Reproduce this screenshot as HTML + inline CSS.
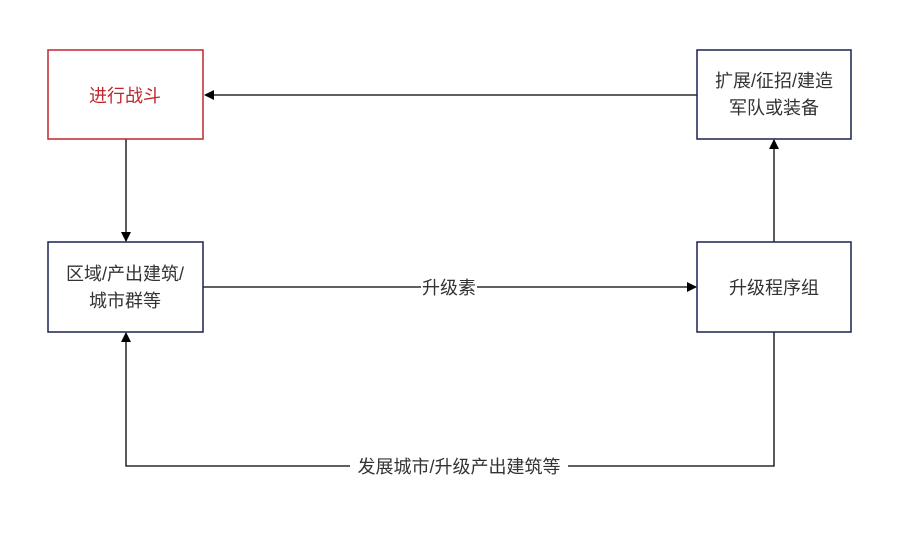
<!DOCTYPE html>
<html><head><meta charset="utf-8"><style>
body{margin:0;background:#fff;width:900px;height:535px;overflow:hidden}
svg text{font-family:"Liberation Sans","Noto Sans CJK SC",sans-serif;font-size:18px;fill:#333}
</style></head><body>
<svg width="900" height="535" viewBox="0 0 900 535" xmlns="http://www.w3.org/2000/svg">
<defs><marker id="a" markerWidth="10" markerHeight="10" refX="9" refY="5" orient="auto" markerUnits="userSpaceOnUse"><path d="M0,0 L10,5 L0,10 Z" fill="#000"/></marker></defs>
<g fill="none" stroke="#000" stroke-width="1.3">
<line x1="697" y1="95" x2="205" y2="95" marker-end="url(#a)"/>
<line x1="126" y1="139" x2="126" y2="241" marker-end="url(#a)"/>
<line x1="203" y1="287" x2="696" y2="287" marker-end="url(#a)"/>
<line x1="774" y1="242" x2="774" y2="140" marker-end="url(#a)"/>
<polyline points="774,332 774,466 126,466 126,333" marker-end="url(#a)"/>
</g>
<rect x="48" y="50" width="155" height="89" fill="#fff" stroke="#c0262d" stroke-width="1.5"/>
<rect x="697" y="50" width="154" height="89" fill="#fff" stroke="#1a2050" stroke-width="1.5"/>
<rect x="48" y="242" width="155" height="90" fill="#fff" stroke="#1a2050" stroke-width="1.5"/>
<rect x="697" y="242" width="154" height="90" fill="#fff" stroke="#1a2050" stroke-width="1.5"/>
<text x="125" y="102" text-anchor="middle" style="fill:#c0262d">进行战斗</text>
<text x="774" y="87" text-anchor="middle">扩展/征招/建造</text>
<text x="774" y="114" text-anchor="middle">军队或装备</text>
<text x="125" y="280" text-anchor="middle">区域/产出建筑/</text>
<text x="125" y="307" text-anchor="middle">城市群等</text>
<text x="774" y="294" text-anchor="middle">升级程序组</text>
<rect x="421" y="278" width="56" height="18" fill="#fff"/>
<text x="449" y="294" text-anchor="middle">升级素</text>
<rect x="350" y="457" width="218" height="18" fill="#fff"/>
<text x="459" y="473" text-anchor="middle">发展城市/升级产出建筑等</text>
</svg>
</body></html>
